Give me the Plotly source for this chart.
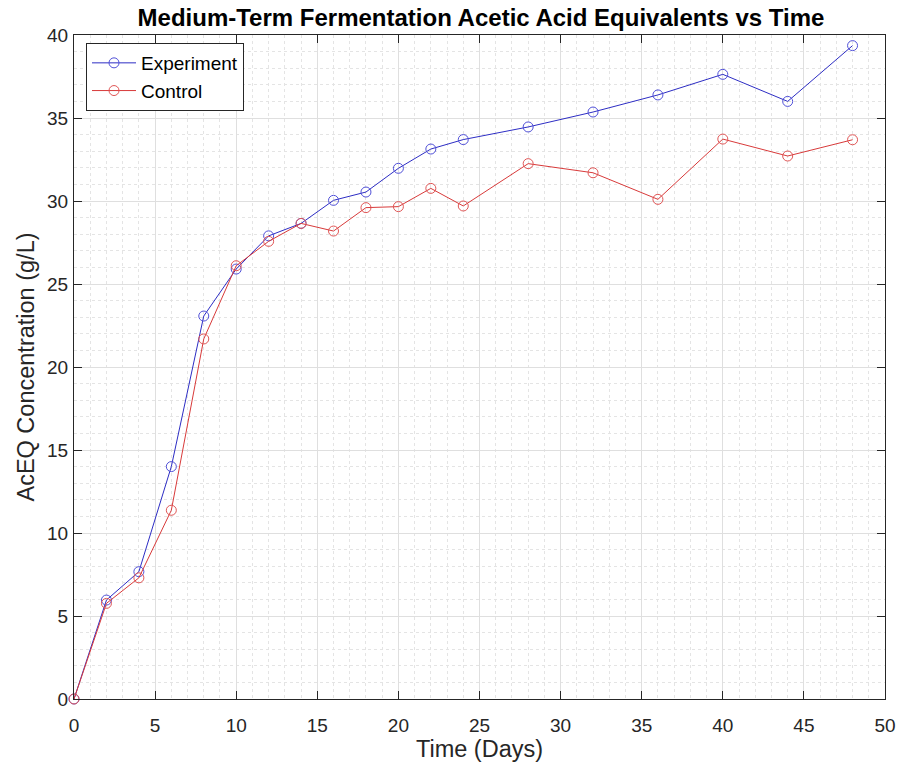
import plotly.graph_objects as go

days = [0, 2, 4, 6, 8, 10, 12, 14, 16, 18, 20, 22, 24, 28, 32, 36, 40, 44, 48]
experiment = [0, 5.96, 7.67, 14.0, 23.07, 25.9, 27.9, 28.65, 30.04, 30.54, 31.97, 33.13,
              33.7, 34.46, 35.36, 36.39, 37.63, 36.0, 39.36]
control = [0, 5.76, 7.3, 11.37, 21.69, 26.1, 27.57, 28.65, 28.19, 29.6, 29.66, 30.76,
           29.7, 32.25, 31.7, 30.1, 33.73, 32.71, 33.69]

x_ticks = [0, 5, 10, 15, 20, 25, 30, 35, 40, 45, 50]
y_ticks = [0, 5, 10, 15, 20, 25, 30, 35, 40]

FONT = "Liberation Sans, Arial, Helvetica, sans-serif"
TXT = "#262626"
W, H = 901, 771
L, R, T, B = 74, 885, 35, 699

fig = go.Figure()
fig.add_trace(go.Scatter(
    x=days, y=experiment, mode="lines+markers", name="Experiment",
    line=dict(color="#2d2dc4", width=1),
    marker=dict(symbol="circle-open", size=10, color="#5050d8", line=dict(width=1)),
    cliponaxis=False,
))
fig.add_trace(go.Scatter(
    x=days, y=control, mode="lines+markers", name="Control",
    line=dict(color="#d83a3a", width=1),
    marker=dict(symbol="circle-open", size=10, color="#e05555", line=dict(width=1)),
    cliponaxis=False,
))

axis_common = dict(
    showline=True, linecolor=TXT, linewidth=1, mirror="ticks",
    ticks="inside", ticklen=8, tickcolor=TXT, tickwidth=1,
    showgrid=True, gridcolor="#dfdfdf", gridwidth=1,
    zeroline=False, automargin=False,
    tickfont=dict(family=FONT, size=19, color=TXT),
)

fig.update_xaxes(
    range=[0, 50], tickvals=x_ticks, ticklabelstandoff=9,
    title=dict(text="Time (Days)", font=dict(family=FONT, size=23.5, color=TXT), standoff=5),
    minor=dict(dtick=1, showgrid=True, griddash="dot", gridcolor="#e4e4e4", gridwidth=1, ticks=""),
    **axis_common,
)
fig.update_yaxes(
    range=[0, 40], tickvals=y_ticks, ticklabelstandoff=1,
    title=dict(text="AcEQ Concentration (g/L)", font=dict(family=FONT, size=23.5, color=TXT), standoff=5),
    minor=dict(dtick=1, showgrid=True, griddash="dot", gridcolor="#e4e4e4", gridwidth=1, ticks=""),
    **axis_common,
)

fig.update_layout(
    width=W, height=H,
    margin=dict(l=L, r=W - R, t=T, b=H - B),
    paper_bgcolor="white", plot_bgcolor="white",
    title=dict(text="<b>Medium-Term Fermentation Acetic Acid Equivalents vs Time</b>",
               x=481 / W, xanchor="center", y=1 - 18 / H, yanchor="middle",
               font=dict(family=FONT, size=24, color="black")),
    legend=dict(x=(86 - L) / (R - L), y=(B - 43) / (B - T), xanchor="left", yanchor="top",
                bgcolor="white", bordercolor=TXT, borderwidth=1,
                font=dict(family=FONT, size=19, color="black"),
                tracegroupgap=0, itemwidth=44),
    showlegend=True,
)

fig.write_html("out.html", config={"displayModeBar": False},
               post_script="document.body.style.margin='0px';")
